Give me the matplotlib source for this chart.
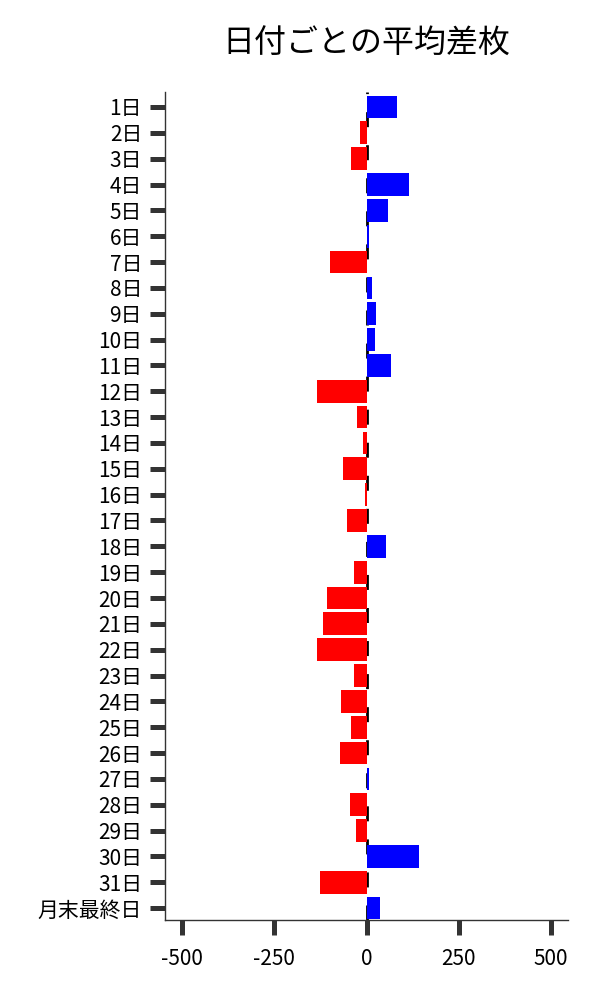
import matplotlib
matplotlib.use("Agg")
import matplotlib.pyplot as plt

plt.rcParams["font.family"] = ["Noto Sans CJK JP", "DejaVu Sans"]

# ---- data ----
days = [f"{d}日" for d in range(1, 32)] + ["月末最終日"]
avg_diff = [
    81, -19, -43, 116, 59, 7, -100, 15, 26, 23,
    67, -133, -27, -11, -65, -5, -54, 53, -33, -108,
    -119, -133, -33, -68, -41, -73, 7, -46, -30, 141,
    -127, 37,
]
x_ticks = [-500, -250, 0, 250, 500]

colors = ["blue" if v >= 0 else "red" for v in avg_diff]
ypos = list(range(len(days)))

fig = plt.figure(figsize=(6, 10), dpi=100)
ax = fig.add_axes([0.275, 0.08, 0.672, 0.828])

ax.axvline(0, color="black", linewidth=2.0, linestyle=(0, (5.4, 6.5)), zorder=1)
ax.barh(ypos, avg_diff, height=0.88, color=colors, zorder=2)

ax.set_yticks(ypos)
ax.set_yticklabels(days)
ax.set_ylim(len(days) - 0.54, -0.58)
ax.set_xlim(-546, 546)
ax.set_xticks(x_ticks)
ax.set_xticklabels([str(t) for t in x_ticks])

for side in ["top", "right"]:
    ax.spines[side].set_visible(False)
for side in ["left", "bottom"]:
    ax.spines[side].set_color("#333333")
    ax.spines[side].set_linewidth(1.0)

ax.tick_params(axis="both", length=10.5, width=3.6, color="#333333",
               labelsize=15, labelcolor="black")
ax.tick_params(axis="y", pad=6)
ax.tick_params(axis="x", pad=10)

ax.set_title("日付ごとの平均差枚", fontsize=23, pad=28)

fig.savefig("out.png", dpi=100)
plt.close(fig)
